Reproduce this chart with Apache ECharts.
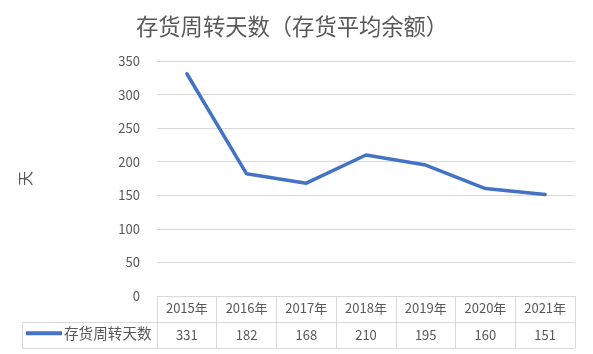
<!DOCTYPE html>
<html><head><meta charset="utf-8">
<script src="https://cdn.jsdelivr.net/npm/echarts@6/dist/echarts.min.js"></script>
<style>html,body{margin:0;padding:0;background:#fff}#c{width:593px;height:354px}</style>
</head><body><div id="c"></div>
<script>
const title = '存货周转天数（存货平均余额）';
const seriesName = '存货周转天数';
const yAxisName = '天';
const categories = ['2015年','2016年','2017年','2018年','2019年','2020年','2021年'];
const values = [331, 182, 168, 210, 195, 160, 151];
const yTicks = [0, 50, 100, 150, 200, 250, 300, 350];

const font = '"Noto Sans CJK SC", "Microsoft YaHei", sans-serif';
const txt = '#595959', border = '#d9d9d9', lineColor = '#4472C4';
const G = {left: 157, right: 18, top: 61, bottom: 58};
const W = 593, H = 354;
const axisY = H - G.bottom, rowH = 26, legendLeft = 22;

const chart = echarts.init(document.getElementById('c'), null, {renderer: 'canvas'});
chart.setOption({
  animation: false,
  textStyle: {fontFamily: font},
  title: {text: title, left: 131, top: 10, textStyle: {fontSize: 22.3, fontWeight: 'normal', color: txt, fontFamily: font}},
  legend: {
    data: [seriesName], left: legendLeft + 4, top: axisY + rowH + 4, icon: 'rect', padding: 0,
    itemWidth: 36, itemHeight: 4, itemGap: 0,
    textStyle: {fontSize: 14.6, color: txt, fontFamily: font, padding: [0, 0, 0, -3]}
  },
  grid: {left: G.left, right: G.right, top: G.top, bottom: G.bottom, containLabel: false},
  xAxis: [{
    type: 'category', data: categories, position: 'bottom', boundaryGap: true,
    axisLine: {show: true, lineStyle: {color: border, width: 1}},
    axisTick: {show: true, interval: 0, length: rowH, lineStyle: {color: border}},
    axisLabel: {interval: 0, margin: 6, fontSize: 13, color: txt, fontFamily: font}
  }, {
    type: 'category', data: values.map(String), position: 'bottom', offset: rowH, boundaryGap: true,
    axisLine: {show: true, lineStyle: {color: border, width: 1}},
    axisTick: {show: true, interval: 0, length: rowH, lineStyle: {color: border}},
    axisLabel: {interval: 0, margin: 7, fontSize: 13, color: txt, fontFamily: font}
  }],
  yAxis: {
    type: 'value', min: yTicks[0], max: yTicks[yTicks.length - 1], interval: yTicks[1] - yTicks[0],
    name: yAxisName, nameLocation: 'middle', nameGap: 124, nameRotate: 90,
    nameTextStyle: {fontSize: 15, color: txt, fontFamily: font},
    axisLine: {show: false}, axisTick: {show: false},
    axisLabel: {margin: 17, fontSize: 13, color: txt, fontFamily: font},
    splitLine: {lineStyle: {color: border, width: 1}}
  },
  series: [{
    name: seriesName, type: 'line', data: values, xAxisIndex: 0,
    symbol: 'none', lineStyle: {color: lineColor, width: 3.5, cap: 'round', join: 'round'},
    itemStyle: {color: lineColor}
  }],
  graphic: [
    {type: 'line', silent: true, shape: {x1: legendLeft, y1: axisY + rowH + 0.5, x2: G.left, y2: axisY + rowH + 0.5}, style: {stroke: border, lineWidth: 1}},
    {type: 'line', silent: true, shape: {x1: legendLeft, y1: axisY + 2*rowH + 0.5, x2: W - G.right, y2: axisY + 2*rowH + 0.5}, style: {stroke: border, lineWidth: 1}},
    {type: 'line', silent: true, shape: {x1: legendLeft + 0.5, y1: axisY + rowH, x2: legendLeft + 0.5, y2: axisY + 2*rowH}, style: {stroke: border, lineWidth: 1}}
  ]
});
</script></body></html>
